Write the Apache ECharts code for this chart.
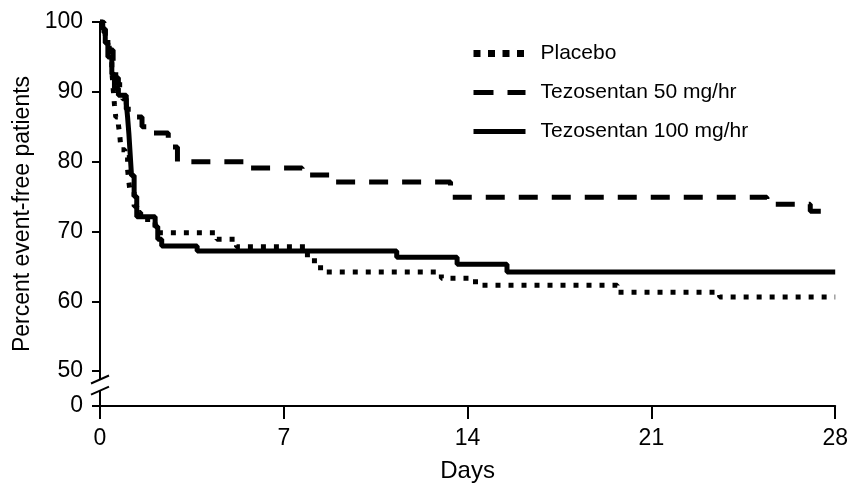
<!DOCTYPE html>
<html>
<head>
<meta charset="utf-8">
<script src="https://cdn.jsdelivr.net/npm/echarts@6/dist/echarts.min.js"></script>
<style>
html,body{margin:0;padding:0;background:#fff;}
#chart{width:851px;height:488px;}
</style>
</head>
<body>
<div id="chart"></div>
<script>
// ---- data (days, percent event-free) ----
const seriesNames = ['Placebo', 'Tezosentan 50 mg/hr', 'Tezosentan 100 mg/hr'];
const xTicks = [0, 7, 14, 21, 28];
const yTickLabels = ['0', '50', '60', '70', '80', '90', '100'];

const placeboDays = [0, 0.15, 0.3, 0.45, 0.5, 0.55, 0.6, 0.7, 0.75, 0.8, 0.95, 1.05, 1.1, 1.15, 1.3, 1.4, 1.55, 2.1, 2.3, 4.45, 5.2, 7.9, 8.4, 13.0, 14.3, 19.7, 23.6, 28];
const placeboPct  = [100, 98.5, 96, 93, 90.5, 88.2, 86.4, 85.3, 83.9, 81.7, 80.6, 78.9, 77.1, 75.6, 73.6, 72.7, 71.7, 70.3, 69.8, 68.9, 67.8, 65.8, 64.2, 63.3, 62.3, 61.3, 60.6, 60.6];

const tezo50Days = [0, 0.1, 0.2, 0.35, 0.5, 0.6, 0.7, 0.85, 1.0, 1.25, 1.6, 1.95, 2.6, 2.95, 5.6, 7.7, 8.9, 13.35, 25.4, 27.05, 27.5];
const tezo50Pct  = [100, 99, 98, 96, 94, 92, 91, 89, 87.5, 86.4, 85, 84.1, 82.1, 80, 79.1, 78.1, 77.1, 74.9, 73.9, 72.9, 72.9];

const tezo100Days = [0, 0.1, 0.2, 0.3, 0.45, 0.55, 0.7, 1.0, 1.05, 1.1, 1.15, 1.2, 1.3, 1.4, 2.1, 2.2, 2.35, 3.7, 11.3, 13.6, 15.5, 28];
const tezo100Pct  = [100, 99, 97, 95, 92.5, 90.5, 89.5, 88.4, 86.4, 84, 81, 78, 75, 72.1, 70.7, 68.9, 67.9, 67.2, 66.3, 65.3, 64.2, 64.2];

// axis break: value 0 is drawn at the position of BREAK_BASE
const BREAK_BASE = 45;

function zip(xs, ys) { return xs.map((x, i) => [x, ys[i] === 0 ? BREAK_BASE : ys[i]]); }

const FONT = '"Liberation Sans", Arial, sans-serif';
const chart = echarts.init(document.getElementById('chart'), null, {renderer: 'canvas'});

const yLabelValues = yTickLabels.map(s => (+s === 0 ? BREAK_BASE : +s));

const styles = [
  {color: '#000', width: 5, type: [5, 8], cap: 'butt'},
  {color: '#000', width: 5, type: [19, 14], cap: 'butt'},
  {color: '#000', width: 5, type: 'solid'}
];
const legendStyles = [
  {color: '#000', width: 7, type: [7, 7.5], cap: 'butt'},
  {color: '#000', width: 5, type: [20, 14], cap: 'butt'},
  {color: '#000', width: 5, type: 'solid'}
];

const option = {
  animation: false,
  backgroundColor: '#fff',
  grid: {left: 100, right: 13, top: 22, bottom: 81, containLabel: false},
  legend: {
    orient: 'vertical',
    left: 465,
    top: 38,
    itemWidth: 52,
    itemHeight: 14,
    itemGap: 18,
    textStyle: {fontFamily: FONT, fontSize: 21, color: '#000', padding: [0, 0, 0, 10]},
    data: seriesNames.map((n, i) => ({
      name: n,
      lineStyle: legendStyles[i],
      itemStyle: {opacity: 0}
    }))
  },
  xAxis: {
    type: 'value',
    min: 0, max: 28, interval: 7,
    name: 'Days',
    nameLocation: 'middle',
    nameGap: 53,
    nameTextStyle: {fontFamily: FONT, fontSize: 24, color: '#000'},
    axisLine: {show: true, lineStyle: {color: '#000', width: 2}},
    axisTick: {show: true, inside: false, length: 13, lineStyle: {color: '#000', width: 2}, customValues: xTicks},
    axisLabel: {fontFamily: FONT, fontSize: 23, color: '#000', margin: 21, customValues: xTicks},
    splitLine: {show: false}
  },
  yAxis: {
    type: 'value',
    min: BREAK_BASE, max: 100, interval: 5,
    name: 'Percent event-free patients',
    nameLocation: 'middle',
    nameGap: 61,
    nameTextStyle: {fontFamily: FONT, fontSize: 23, color: '#000'},
    axisLine: {show: true, lineStyle: {color: '#000', width: 2}},
    axisTick: {show: true, inside: false, length: 8, lineStyle: {color: '#000', width: 2}, customValues: yLabelValues},
    axisLabel: {
      fontFamily: FONT, fontSize: 23, color: '#000', margin: 17,
      customValues: yLabelValues,
      formatter: v => (v === BREAK_BASE ? '0' : String(v))
    },
    splitLine: {show: false}
  },
  series: [
    {
      name: seriesNames[0], type: 'line', step: 'end', symbol: 'none',
      data: zip(placeboDays, placeboPct),
      lineStyle: styles[0], itemStyle: {color: '#000'}, z: 3
    },
    {
      name: seriesNames[1], type: 'line', step: 'end', symbol: 'none',
      data: zip(tezo50Days, tezo50Pct),
      lineStyle: styles[1], itemStyle: {color: '#000'}, z: 3
    },
    {
      name: seriesNames[2], type: 'line', step: 'end', symbol: 'none',
      data: zip(tezo100Days, tezo100Pct),
      lineStyle: styles[2], itemStyle: {color: '#000'}, z: 4
    }
  ]
};
chart.setOption(option);

// axis-break marks on the y axis (between 0 and 50)
const pHi = chart.convertToPixel({xAxisIndex: 0, yAxisIndex: 0}, [0, 48.8]);
const pLo = chart.convertToPixel({xAxisIndex: 0, yAxisIndex: 0}, [0, 47.2]);
chart.setOption({
  graphic: [
    {type: 'rect', shape: {x: pHi[0] - 3, y: pHi[1], width: 6, height: pLo[1] - pHi[1]}, style: {fill: '#fff'}, z: 100},
    {type: 'line', shape: {x1: pHi[0] - 9, y1: pHi[1] + 4, x2: pHi[0] + 9, y2: pHi[1] - 4}, style: {stroke: '#000', lineWidth: 2}, z: 101},
    {type: 'line', shape: {x1: pLo[0] - 9, y1: pLo[1] + 4, x2: pLo[0] + 9, y2: pLo[1] - 4}, style: {stroke: '#000', lineWidth: 2}, z: 101}
  ]
});
</script>
</body>
</html>
